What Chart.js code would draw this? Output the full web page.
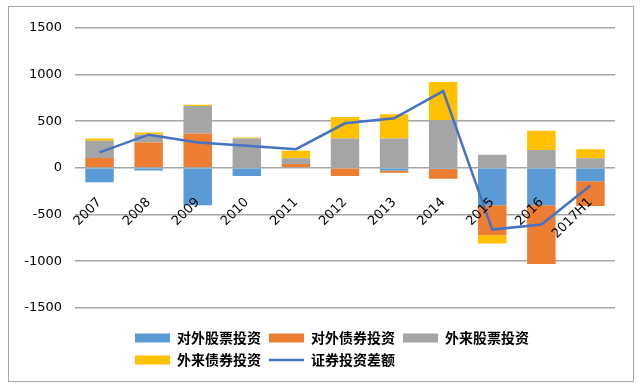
<!DOCTYPE html>
<html>
<head>
<meta charset="utf-8">
<script src="https://cdn.jsdelivr.net/npm/chart.js@4/dist/chart.umd.min.js"></script>
<style>
    html, body { margin: 0; padding: 0; background: #fff; }
    #frame {
        position: absolute;
        left: 8px;
        top: 6px;
        width: 626px;
        height: 376px;
        border: 1px solid #a6a6a6;
        box-sizing: border-box;
    }
    #chart { display: block; }
</style>
</head>
<body>
<div id="frame"><canvas id="chart" width="624" height="374"></canvas></div>
<script>
const years = ["2007", "2008", "2009", "2010", "2011", "2012", "2013", "2014", "2015", "2016", "2017H1"];

// 对外股票投资
const outEquity = [-155, -30, -400, -88, 0, 0, -28, -12, -402, -402, -144];
// 对外债券投资
const outBond = [105, 270, 367, 0, 40, -88, -25, -105, -320, -628, -266];
// 外来股票投资
const inEquity = [185, 83, 295, 314, 61, 314, 314, 509, 140, 190, 101];
// 外来债券投资
const inBond = [25, 25, 13, 10, 82, 231, 259, 411, -89, 206, 99];
// 证券投资差额
const netBalance = [165, 355, 271, 236, 200, 477, 530, 821, -662, -608, -190];

const yTicks = [-1500, -1000, -500, 0, 500, 1000, 1500];

// 图例每行三个, 第二行和第一行左对齐
const legendRows = {
    id: "legendRows",
    beforeLayout(chart) {
        const lg = chart.legend;
        if (lg && !lg._rowPatch) {
            const orig = lg.update.bind(lg);
            lg.update = (w, h, m) => orig(Math.min(w, 460), h, m);
            lg._rowPatch = true;
        }
    },
    afterLayout(chart) {
        const lg = chart.legend;
        if (!lg || !lg.lineWidths) return;
        lg.left += 40;
        lg.width = lg.right - lg.left;
        for (let i = 1; i < lg.lineWidths.length; i++) {
            lg.lineWidths[i] = lg.lineWidths[0];
        }
    },
};

const barStyle = (label, color, data) => ({
    type: "bar",
    label: label,
    data: data,
    backgroundColor: color,
    borderWidth: 0,
    pointStyle: "rect",
    barPercentage: 0.58,
    categoryPercentage: 1,
    order: 2,
});

new Chart(document.getElementById("chart"), {
    data: {
        labels: years,
        datasets: [
            barStyle("对外股票投资", "#5b9bd5", outEquity),
            barStyle("对外债券投资", "#ed7d31", outBond),
            barStyle("外来股票投资", "#a5a5a5", inEquity),
            barStyle("外来债券投资", "#ffc000", inBond),
            {
                type: "line",
                label: "证券投资差额",
                data: netBalance,
                stack: "line",
                borderColor: "#4472c4",
                backgroundColor: "#4472c4",
                borderWidth: 2.5,
                pointRadius: 0,
                pointStyle: "line",
                tension: 0,
                fill: false,
                order: 1,
            },
        ],
    },
    options: {
        responsive: false,
        animation: false,
        layout: { padding: { left: 0, right: 18, top: 19, bottom: 4 } },
        scales: {
            x: {
                stacked: true,
                position: { y: 0 },
                grid: { display: false },
                border: { display: false },
                ticks: {
                    z: 1,
                    color: "#000",
                    font: { family: "DejaVu Sans", size: 13 },
                    minRotation: 45,
                    maxRotation: 45,
                    padding: 19,
                    autoSkip: false,
                },
            },
            y: {
                stacked: true,
                min: -1500,
                max: 1500,
                afterBuildTicks(scale) {
                    scale.ticks = yTicks.map((v) => ({ value: v }));
                },
                afterFit(scale) {
                    scale.width = 66;
                },
                grid: { color: "#a6a6a6", lineWidth: 1.5, drawTicks: false },
                border: { display: false },
                ticks: {
                    color: "#000",
                    font: { family: "DejaVu Sans", size: 13 },
                    padding: 13,
                    callback: (v) => String(v),
                },
            },
        },
        plugins: {
            legend: {
                position: "bottom",
                title: {
                    display: true,
                    text: " ",
                    font: { size: 1 },
                    padding: { top: 7, bottom: 7 },
                },
                labels: {
                    usePointStyle: true,
                    pointStyleWidth: 35,
                    boxWidth: 35,
                    boxHeight: 9,
                    padding: 8,
                    color: "#000",
                    font: { family: "Noto Sans CJK SC", size: 14, weight: "bold" },
                    sort: (a, b) => a.datasetIndex - b.datasetIndex,
                },
            },
            tooltip: { enabled: false },
        },
    },
    plugins: [legendRows],
});
</script>
</body>
</html>
